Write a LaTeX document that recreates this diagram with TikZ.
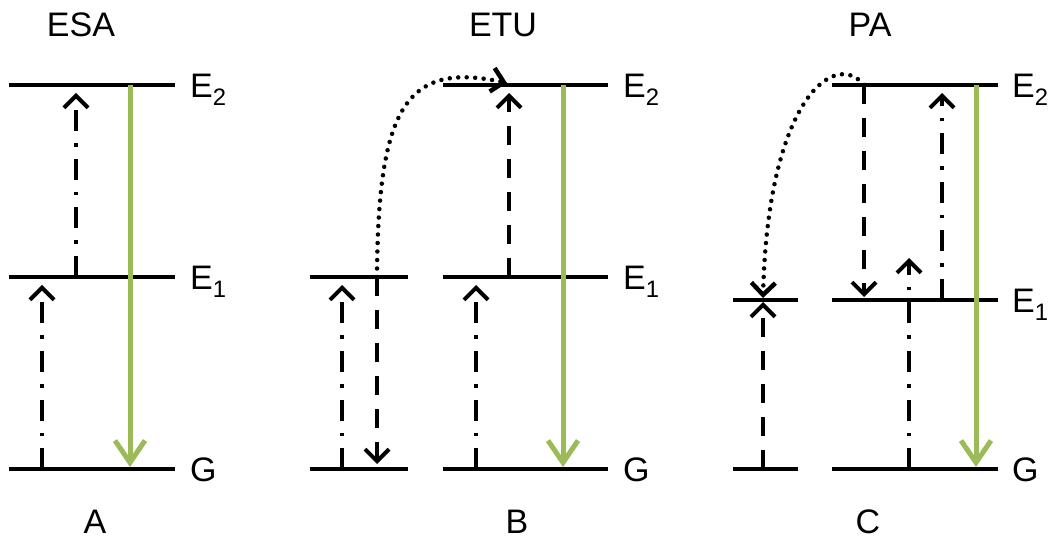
\documentclass[tikz,border=0pt]{standalone}
\usepackage{fontspec}
\setmainfont{Liberation Sans}
\usetikzlibrary{arrows.meta}
\definecolor{emitgreen}{HTML}{9BBB59}
\tikzset{
  level/.style={line width=4pt},
  pump/.style={line width=4pt, dash pattern=on 21pt off 12pt on 3.5pt off 12pt, -{Straight Barb[length=12pt,width=24pt]}},
  relax/.style={line width=4pt, dash pattern=on 19pt off 14pt, -{Straight Barb[length=12pt,width=24pt]}},
  transfer/.style={line width=4.5pt, line cap=round, dash pattern=on 0pt off 8.5pt, -{Straight Barb[length=12pt,width=24pt]}},
  emit/.style={line width=5pt, emitgreen, -{Straight Barb[length=22pt,width=30pt]}},
  lab/.style={anchor=base west, inner sep=0pt},
  title/.style={anchor=base, inner sep=0pt}
}
\begin{document}
\begin{tikzpicture}[x=1pt, y=1pt, font=\fontsize{34}{40}\selectfont, line join=round]
\useasboundingbox (0,0) rectangle (1053,539);
% titles and panel letters
\node[title] (tA) at (81,502) {ESA};
\node[title] (tB) at (503,502) {ETU};
\node[title] (tC) at (870,502) {PA};
\node[title] (pA) at (95,6) {A};
\node[title] (pB) at (517,6) {B};
\node[title] (pC) at (868,6) {C};
% panel A: levels
\draw[level] (9,454)--(175,454) (9,262)--(175,262) (9,70)--(175,70);
\node[lab] (aE2) at (190,441.5) {E\textsubscript{2}};
\node[lab] (aE1) at (190,249.5) {E\textsubscript{1}};
\node[lab] (aG) at (190,57.5) {G};
\coordinate (a1) at (42,70); \coordinate (a2) at (42,254);
\coordinate (a3) at (76,262); \coordinate (a4) at (76,446);
\coordinate (a5) at (130,454); \coordinate (a6) at (130,72);
\draw[pump] (a1)--(a2);
\draw[pump] (a3)--(a4);
\draw[emit] (a5)--(a6);
% panel B: levels
\draw[level] (310,262)--(408,262) (310,70)--(408,70);
\draw[level] (443,454)--(608,454) (443,262)--(608,262) (443,70)--(608,70);
\node[lab] (bE2) at (623,441.5) {E\textsubscript{2}};
\node[lab] (bE1) at (623,249.5) {E\textsubscript{1}};
\node[lab] (bG) at (623,57.5) {G};
\coordinate (b1) at (342,70); \coordinate (b2) at (342,254);
\coordinate (b3) at (377,262); \coordinate (b4) at (377,75);
\coordinate (b5) at (476,70); \coordinate (b6) at (476,254);
\coordinate (b7) at (509,262); \coordinate (b8) at (509,446);
\coordinate (b9) at (563,454); \coordinate (b10) at (563,72);
\coordinate (b11) at (507,456);
\draw[pump] (b1)--(b2);
\draw[relax] (b3)--(b4);
\draw[transfer] (b3) .. controls (378,430) and (405,478) .. (b11);
\draw[pump] (b5)--(b6);
\draw[relax] (b7)--(b8);
\draw[emit] (b9)--(b10);
% panel C: levels
\draw[level] (733,239)--(798,239) (733,70)--(798,70);
\draw[level] (832,454)--(998,454) (832,239)--(998,239) (832,70)--(998,70);
\node[lab] (cE2) at (1012,441.5) {E\textsubscript{2}};
\node[lab] (cE1) at (1012,226.5) {E\textsubscript{1}};
\node[lab] (cG) at (1012,57.5) {G};
\coordinate (c1) at (763,70); \coordinate (c2) at (763,237);
\coordinate (c3) at (864,454); \coordinate (c4) at (864,242);
\coordinate (c5) at (763,241);
\coordinate (c6) at (909,70); \coordinate (c7) at (909,281);
\coordinate (c8) at (942,239); \coordinate (c9) at (942,446);
\coordinate (c10) at (976,454); \coordinate (c11) at (976,72);
\draw[relax] (c1)--(c2);
\draw[transfer] (c3) .. controls (835,490) and (768,440) .. (c5);
\draw[relax] (c3)--(c4);
\draw[pump] (c6)--(c7);
\draw[pump] (c8)--(c9);
\draw[emit] (c10)--(c11);
\end{tikzpicture}
\end{document}
